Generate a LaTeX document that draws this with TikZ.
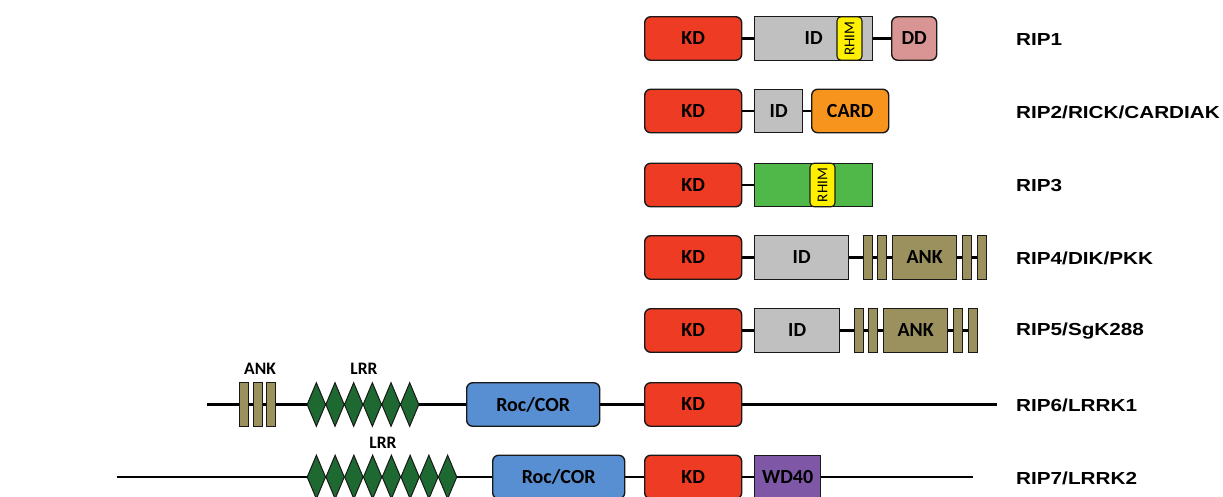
\documentclass[tikz,border=0pt]{standalone}
\usepackage{fontspec}
\setmainfont{Carlito}
\newfontfamily\lblfont{Liberation Sans}
\usetikzlibrary{shapes.geometric,backgrounds}
\definecolor{kdred}{RGB}{238,59,36}
\definecolor{idgrey}{RGB}{192,192,192}
\definecolor{rhimy}{RGB}{255,240,0}
\definecolor{ddpink}{RGB}{217,149,148}
\definecolor{cardor}{RGB}{247,148,29}
\definecolor{rgreen}{RGB}{80,184,72}
\definecolor{ankc}{RGB}{155,145,95}
\definecolor{lrrc}{RGB}{30,105,50}
\definecolor{rocb}{RGB}{88,143,210}
\definecolor{wdp}{RGB}{126,87,166}
\newcommand{\lblwide}[1]{\scalebox{1.19}[1]{#1}}
\tikzset{
  x=1pt, y=-1pt,
  dom/.style={draw=black!90, line width=1.4pt, inner sep=0pt, anchor=west,
    minimum height=43.5pt, font=\fontsize{20}{20}\selectfont\bfseries},
  rdom/.style={dom, rounded corners=6pt},
  rhimbox/.style={draw=black!90, line width=1.1pt, inner sep=0pt, fill=rhimy,
    rounded corners=4pt, rotate=90, minimum width=43.5pt, minimum height=25pt,
    font=\fontsize{15}{15}\selectfont},
  ankbar/.style={draw=black!90, line width=1.1pt, inner sep=0pt, anchor=west,
    minimum height=43.5pt, minimum width=8.5pt, fill=ankc},
  lrrd/.style={diamond, draw=black!90, line width=1pt, inner sep=0pt,
    fill=lrrc, minimum width=18.7pt, minimum height=44pt},
  conn/.style={line width=2.6pt, black},
  ridlbl/.style={inner sep=0pt, anchor=west,
    font=\lblfont\fontsize{17.4}{17.4}\selectfont\bfseries},
  toplbl/.style={inner sep=0pt, font=\fontsize{17.5}{17.5}\selectfont\bfseries}
}
\begin{document}
\begin{tikzpicture}
\useasboundingbox (0,0) rectangle (1223,496);
\clip (0,0) rectangle (1223,496);

% Row 1: RIP1
\node[rdom, fill=kdred, minimum width=97pt] (kd1) at (644,38.5) {KD};
\node[dom, fill=idgrey, minimum width=118pt] (id1) at (754,38.5) {ID};
\node[rhimbox] (rh1) at (849.5,38.5) {RHIM};
\node[rdom, fill=ddpink, minimum width=45pt] (dd1) at (891,38.5) {DD};
\node[ridlbl] (l1) at (1016,39.5) {\lblwide{RIP1}};

% Row 2: RIP2
\node[rdom, fill=kdred, minimum width=97pt] (kd2) at (644,111) {KD};
\node[dom, fill=idgrey, minimum width=48pt] (id2) at (754,111) {ID};
\node[rdom, fill=cardor, minimum width=77pt] (card2) at (811,111) {CARD};
\node[ridlbl] (l2) at (1016,112) {\lblwide{RIP2/RICK/CARDIAK}};

% Row 3: RIP3
\node[rdom, fill=kdred, minimum width=97pt] (kd3) at (644,185) {KD};
\node[dom, fill=rgreen, minimum width=118pt] (g3) at (754,185) {};
\node[rhimbox] (rh3) at (822.5,185) {RHIM};
\node[ridlbl] (l3) at (1016,186) {\lblwide{RIP3}};

% Row 4: RIP4
\node[rdom, fill=kdred, minimum width=97pt] (kd4) at (644,257.5) {KD};
\node[dom, fill=idgrey, minimum width=94pt] (id4) at (754,257.5) {ID};
\node[ankbar] (a41) at (863,257.5) {};
\node[ankbar] (a42) at (877,257.5) {};
\node[dom, fill=ankc, minimum width=64pt] (ank4) at (892,257.5) {ANK};
\node[ankbar] (a43) at (962,257.5) {};
\node[ankbar] (a44) at (977,257.5) {};
\node[ridlbl] (l4) at (1016,258.5) {\lblwide{RIP4/DIK/PKK}};

% Row 5: RIP5
\node[rdom, fill=kdred, minimum width=97pt] (kd5) at (644,330.5) {KD};
\node[dom, fill=idgrey, minimum width=85pt] (id5) at (754,330.5) {ID};
\node[ankbar] (a51) at (854,330.5) {};
\node[ankbar] (a52) at (868,330.5) {};
\node[dom, fill=ankc, minimum width=64pt] (ank5) at (883,330.5) {ANK};
\node[ankbar] (a53) at (953,330.5) {};
\node[ankbar] (a54) at (968,330.5) {};
\node[ridlbl] (l5) at (1016,331.5) {\lblwide{RIP5/SgK288}};

% Row 6: RIP6/LRRK1
\coordinate (s6) at (207,404.5);
\coordinate (e6) at (997,404.5);
\node[ankbar] (a61) at (239,404.5) {};
\node[ankbar] (a62) at (253,404.5) {};
\node[ankbar] (a63) at (266,404.5) {};
\node[toplbl] (ankl6) at (260,369) {ANK};
\foreach \i in {0,...,5}
  \node[lrrd] (d6\i) at ({307+18.67*(\i+0.5)},404.5) {};
\node[toplbl] (lrrl6) at (364,369) {LRR};
\node[rdom, fill=rocb, minimum width=133pt] (roc6) at (466,404.5) {Roc/COR};
\node[rdom, fill=kdred, minimum width=97pt] (kd6) at (644,404.5) {KD};
\node[ridlbl] (l6) at (1016,405.5) {\lblwide{RIP6/LRRK1}};

% Row 7: RIP7/LRRK2
\coordinate (s7) at (117,477);
\coordinate (e7) at (973,477);
\foreach \i in {0,...,7}
  \node[lrrd] (d7\i) at ({307+18.75*(\i+0.5)},477) {};
\node[toplbl] (lrrl7) at (383,443) {LRR};
\node[rdom, fill=rocb, minimum width=132pt] (roc7) at (492,477) {Roc/COR};
\node[rdom, fill=kdred, minimum width=97pt] (kd7) at (644,477) {KD};
\node[dom, fill=wdp, minimum width=66pt] (wd7) at (754,477) {WD40};
\node[ridlbl] (l7) at (1016,478) {\lblwide{RIP7/LRRK2}};

\begin{pgfonlayer}{background}
  \fill[white] (0,0) rectangle (1223,496);
  \draw[conn] (kd1.center) -- (dd1.center);
  \draw[conn] (kd2.center) -- (card2.center);
  \draw[conn] (kd3.center) -- (g3.center);
  \draw[conn] (kd4.center) -- (a44.center);
  \draw[conn] (kd5.center) -- (a54.center);
  \draw[conn] (s6) -- (e6);
  \draw[conn] (s7) -- (e7);
\end{pgfonlayer}
\end{tikzpicture}
\end{document}
